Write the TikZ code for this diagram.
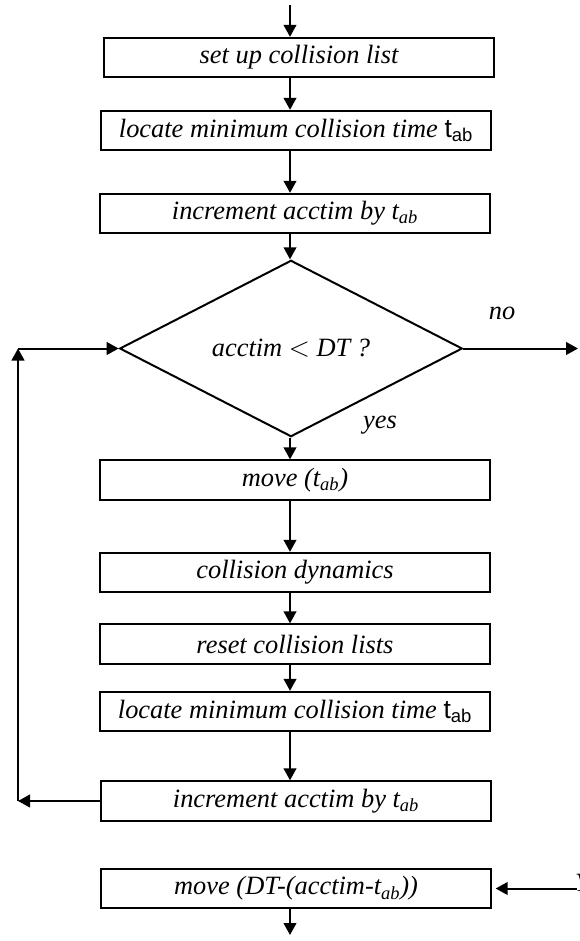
\documentclass[tikz,border=0pt]{standalone}
\usepackage{fontspec}
\setmainfont{Liberation Serif}
\newfontfamily\arialfont{Liberation Sans}
\usepackage{tikz}
\usetikzlibrary{shapes.geometric,arrows.meta}

\begin{document}
\begin{tikzpicture}[%
        x=0.75pt, y=-0.75pt,
        >={Triangle[length=9pt,width=9.5pt]},
        every path/.style={line width=1.5pt},
        procbox/.style={rectangle, draw=black, line width=1.5pt, minimum width=292pt, minimum height=29.5pt, inner sep=0pt, font=\fontsize{19.8pt}{23pt}\selectfont\itshape},
        testbox/.style={diamond, draw=black, line width=1.5pt, minimum width=257pt, minimum height=86pt, inner sep=0pt, font=\fontsize{19.8pt}{23pt}\selectfont\itshape},
        answer/.style={inner sep=0pt, font=\fontsize{19.8pt}{23pt}\selectfont\itshape}
        ]
        \useasboundingbox (0,0) rectangle (579,941);
        % main column
        \node[procbox] (setup) at (299,57.5) {set up collision list};
        \node[procbox] (locate1) at (296,130.5) {locate minimum collision time {\arialfont\upshape t\textsubscript{ab}}};
        \node[procbox] (incr1) at (295,213.5) {increment acctim by t\textsubscript{ab}};
        \node[testbox] (test) at (291,348.5) {acctim $<$ DT ?};
        \node[procbox] (move1) at (295,480) {move (t\textsubscript{ab})};
        \node[procbox] (dyn) at (295,572.5) {collision dynamics};
        \node[procbox] (reset) at (295,644) {reset collision lists};
        \node[procbox] (locate2) at (295,711.5) {locate minimum collision time {\arialfont\upshape t\textsubscript{ab}}};
        \node[procbox] (incr2) at (296,801) {increment acctim by t\textsubscript{ab}};
        \node[procbox] (final) at (296,888.5) {move (DT-(acctim-t\textsubscript{ab}))};
        \node[answer] (no) at (502,313) {no};
        \node[answer] (yes) at (380,425) {yes};
        \node[answer, anchor=north west] (cut) at (574,873) {Y};
        % free ends
        \coordinate (entry) at (290,5);
        \coordinate (leave) at (290,935);
        \coordinate (exit) at (578,350);
        \coordinate (loop) at (18,0);
        \coordinate (resume) at (577,0);
        % flow
        \draw[->] (entry) -- (setup.north -| entry);
        \foreach \a/\b in {setup/locate1, locate1/incr1, incr1/test, test/move1,
                           move1/dyn, dyn/reset, reset/locate2, locate2/incr2}
            \draw[->] (\a.south -| entry) -- (\b.north -| entry);
        \draw[->] (final.south -| entry) -- (leave);
        \draw[->] (test.east) -- (test.east -| exit);
        % back to the test
        \draw[->] (incr2.west) -- (incr2.west -| loop);
        \draw[->] (incr2.west -| loop) -- (test.west -| loop);
        \draw[->] (test.west -| loop) -- (test.west);
        \draw[->, shorten >=3pt] (final.east -| resume) -- (final.east);
    \end{tikzpicture}
\end{document}
